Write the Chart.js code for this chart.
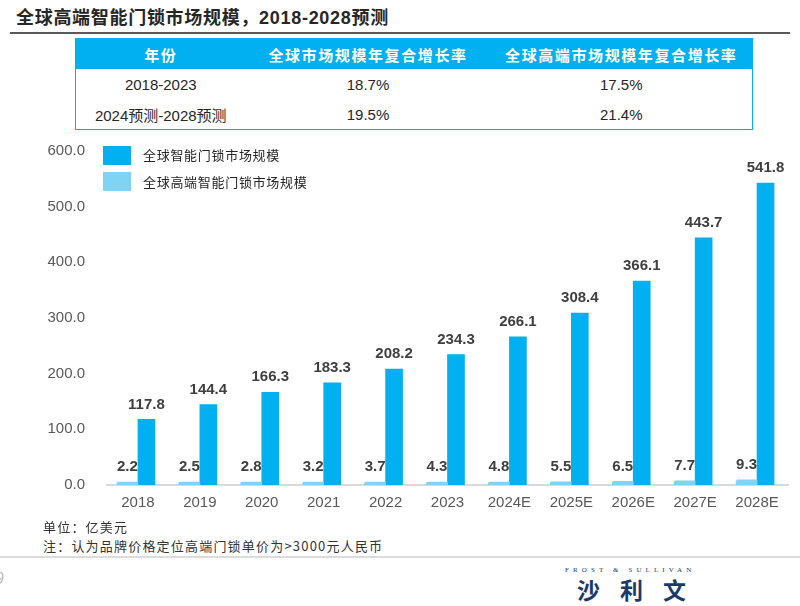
<!DOCTYPE html>
<html>
<head>
<meta charset="utf-8">
<script src="https://cdn.jsdelivr.net/npm/chart.js@4"></script>
<style>
  html, body { margin: 0; padding: 0; }
  body { width: 800px; height: 606px; position: relative; overflow: hidden; background: #fff;
         font-family: "Liberation Sans", "Noto Sans CJK SC", sans-serif; }
  .abs { position: absolute; }
  #title { left: 16px; top: 3px; font: bold 18px "Liberation Sans", "Noto Sans CJK SC", sans-serif; color: #262626; white-space: nowrap; letter-spacing: 0.7px; }
  #titleLine { left: 10px; top: 32px; width: 780px; height: 2px; background: #595959; }
  table { position: absolute; left: 75px; top: 38px; width: 677px; border-collapse: collapse;
          border: 1px solid #00b0f0; table-layout: fixed; }
  th { background: #00b0f0; color: #fff; height: 30px; padding: 0; font: bold 15px "Noto Sans CJK SC", sans-serif; letter-spacing: 1.6px; }
  td { height: 30px; padding: 0; text-align: center; font: 15px "Liberation Sans", "Noto Sans CJK SC", sans-serif; color: #262626; }
  #chartBox { left: 0; top: 130px; width: 800px; height: 390px; }
  #chartBox canvas { display: block; }
  .lgBox { position: absolute; width: 28px; height: 19px; }
  .lgText { position: absolute; font: 13px "Noto Sans CJK SC", sans-serif; color: #262626; white-space: nowrap; letter-spacing: 0.7px; line-height: 16px; }
  .note { position: absolute; left: 43px; font: 13px "Noto Sans CJK SC", sans-serif; color: #333; white-space: nowrap; letter-spacing: 1.2px; line-height: 16px; }
  #bottomLine { left: 0; top: 556px; width: 800px; height: 2px; background: #dcdcdc; }
  #frost { left: 565px; top: 566px; font: 7px "Liberation Serif", serif; letter-spacing: 4.1px; color: #1f3b66; white-space: nowrap; }
  #slw { left: 577px; top: 572px; font: bold 23px "Noto Sans CJK SC", sans-serif; letter-spacing: 20px; color: #1a3a6b; white-space: nowrap; }
  #pg { left: -5px; top: 570px; font: italic 16px "Liberation Sans", sans-serif; color: #bbb; }
</style>
</head>
<body>
<div id="title" class="abs">全球高端智能门锁市场规模，2018-2028预测</div>
<div id="titleLine" class="abs"></div>

<table>
  <colgroup><col style="width:170px"><col style="width:245px"><col style="width:262px"></colgroup>
  <tr><th>年份</th><th>全球市场规模年复合增长率</th><th>全球高端市场规模年复合增长率</th></tr>
  <tr><td>2018-2023</td><td>18.7%</td><td>17.5%</td></tr>
  <tr><td>2024预测-2028预测</td><td>19.5%</td><td>21.4%</td></tr>
</table>

<div id="chartBox" class="abs"><canvas id="c"></canvas></div>

<div class="lgBox" style="left:103px; top:146px; background:#00b0f0;"></div>
<div class="lgText" style="left:143px; top:147px;">全球智能门锁市场规模</div>
<div class="lgBox" style="left:103px; top:172px; background:#7fd3f5;"></div>
<div class="lgText" style="left:143px; top:174px;">全球高端智能门锁市场规模</div>

<div class="note" style="top:519px;">单位：亿美元</div>
<div class="note" style="top:538px;">注：认为品牌价格定位高端门锁单价为&gt;3000元人民币</div>
<div id="bottomLine" class="abs"></div>
<div id="pg" class="abs">9</div>
<div id="frost" class="abs">FROST &amp; SULLIVAN</div>
<div id="slw" class="abs">沙利文</div>

<script>
const categories = ["2018", "2019", "2020", "2021", "2022", "2023", "2024E", "2025E", "2026E", "2027E", "2028E"];
const highEndMarket = [2.2, 2.5, 2.8, 3.2, 3.7, 4.3, 4.8, 5.5, 6.5, 7.7, 9.3];
const globalMarket = [117.8, 144.4, 166.3, 183.3, 208.2, 234.3, 266.1, 308.4, 366.1, 443.7, 541.8];
const yTicks = [0, 100, 200, 300, 400, 500, 600];

const valueLabels = {
  id: 'valueLabels',
  afterDatasetsDraw(chart) {
    const ctx = chart.ctx;
    chart.data.datasets.forEach((ds, i) => {
      const meta = chart.getDatasetMeta(i);
      meta.data.forEach((bar, j) => {
        ctx.save();
        ctx.font = 'bold 15px "Liberation Sans", Arial, sans-serif';
        ctx.fillStyle = '#404040';
        ctx.textAlign = 'center';
        ctx.textBaseline = 'middle';
        ctx.fillText(ds.data[j].toFixed(1), bar.x, bar.y - 15);
        ctx.restore();
      });
    });
  }
};

new Chart(document.getElementById('c'), {
  type: 'bar',
  data: {
    labels: categories,
    datasets: [
      { label: '全球高端智能门锁市场规模', data: highEndMarket, backgroundColor: '#7fd3f5', barThickness: 21, borderRadius: { topLeft: 3 }, borderSkipped: 'bottom', minBarLength: 3 },
      { label: '全球智能门锁市场规模', data: globalMarket, backgroundColor: '#00b0f0', barThickness: 17 }
    ]
  },
  options: {
    responsive: true,
    maintainAspectRatio: false,
    animation: false,
    layout: { padding: { left: 0, right: 12, top: 20.7, bottom: 0 } },
    plugins: { legend: { display: false }, tooltip: { enabled: false } },
    scales: {
      x: {
        grid: { display: false, drawTicks: false },
        border: { display: true, color: '#d9d9d9', width: 2 },
        ticks: { color: '#595959', font: { size: 15, family: '"Liberation Sans", Arial, sans-serif' }, padding: 9, maxRotation: 0, autoSkip: false },
        afterFit: s => { s.height = 35; }
      },
      y: {
        min: 0, max: 600,
        afterBuildTicks: s => { s.ticks = yTicks.map(v => ({ value: v })); },
        grid: { display: false, drawTicks: false },
        border: { display: false },
        ticks: { color: '#595959', font: { size: 15, family: '"Liberation Sans", Arial, sans-serif' }, padding: 22, callback: v => Number(v).toFixed(1) },
        afterFit: s => { s.width = 107; s.paddingTop = 0; s.paddingBottom = 0; }
      }
    }
  },
  plugins: [valueLabels]
});
</script>
</body>
</html>
